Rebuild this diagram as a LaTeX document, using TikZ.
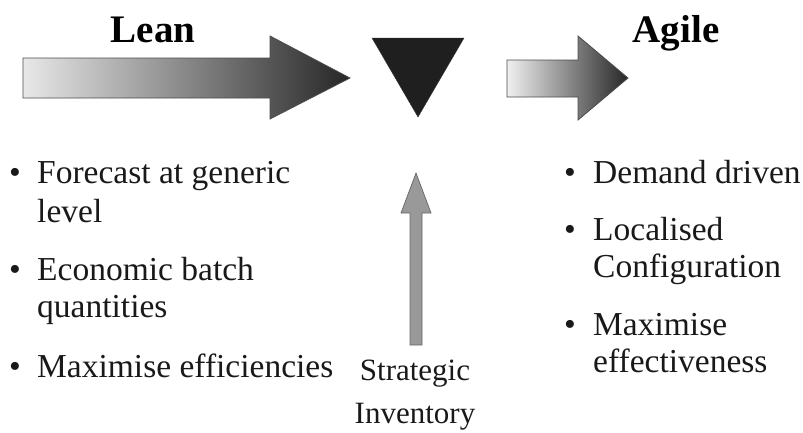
\documentclass[tikz,border=0pt]{standalone}
\usepackage{fontspec}
\setmainfont{Liberation Serif}
\begin{document}
\begin{tikzpicture}[x=1pt,y=-1pt,
  bul/.style={anchor=base west, inner sep=0pt, font=\fontsize{33.5}{38}\selectfont, text=black!90},
  dot/.style={anchor=base, inner sep=0pt, font=\fontsize{33.5}{38}\selectfont, text=black!90},
  ttl/.style={anchor=base, inner sep=0pt, font=\fontsize{39}{44}\selectfont\bfseries, text=black},
  lbl/.style={anchor=base, inner sep=0pt, font=\fontsize{31}{40}\selectfont, text=black!90},
  blockarrow/.style={draw=black!70, line width=0.8pt}]
\useasboundingbox (0,0) rectangle (803,432);
% Lean arrow
\shade[blockarrow, left color=gray!18, right color=black!85]
  (23,58) -- (270,58) -- (270,36) -- (350,78) -- (270,119) -- (270,98) -- (23,98) -- cycle;
% triangle
\fill[black!88, draw=black!80] (372,38) -- (464,38) -- (418,117) -- cycle;
% Agile arrow
\shade[blockarrow, left color=gray!12, right color=black!85]
  (507,60) -- (578,60) -- (578,36) -- (628,78) -- (578,120) -- (578,97) -- (507,97) -- cycle;
% titles
\node[ttl] (lean) at (153,42) {Lean};
\node[ttl] (agile) at (676,42) {Agile};
% vertical arrow
\coordinate (vtip) at (416,173);
\coordinate (vbase) at (416,345);
\shade[draw=black!60, line width=0.7pt, left color=gray!80, middle color=gray!45, right color=gray!80]
  (410,345) -- (410,213) -- (401,213) -- (vtip) -- (431,213) -- (422,213) -- (422,345) -- cycle;
\node[lbl] (strat1) at (415,380) {Strategic};
\node[lbl] (strat2) at (415,423) {Inventory};
% left bullets
\node[dot] (lb1) at (15,183) {\textbullet};
\node[bul] (l1a) at (37,183) {Forecast at generic};
\node[bul] (l1b) at (37,222) {level};
\node[dot] (lb2) at (15,280) {\textbullet};
\node[bul] (l2a) at (37,280) {Economic batch};
\node[bul] (l2b) at (37,317) {quantities};
\node[dot] (lb3) at (15,377) {\textbullet};
\node[bul] (l3a) at (37,377) {Maximise efficiencies};
% right bullets
\node[dot] (rb1) at (570,183) {\textbullet};
\node[bul] (r1a) at (593,183) {Demand driven};
\node[dot] (rb2) at (570,240) {\textbullet};
\node[bul] (r2a) at (593,240) {Localised};
\node[bul] (r2b) at (593,277) {Configuration};
\node[dot] (rb3) at (570,335) {\textbullet};
\node[bul] (r3a) at (593,335) {Maximise};
\node[bul] (r3b) at (593,372) {effectiveness};
\end{tikzpicture}
\end{document}
